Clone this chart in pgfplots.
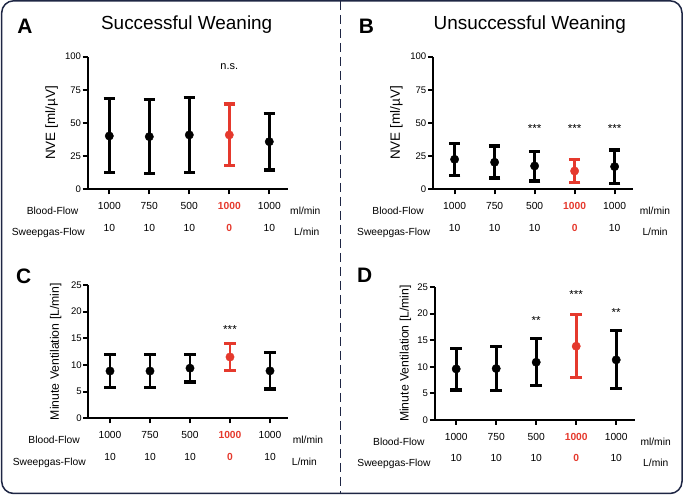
\documentclass[border=0pt]{standalone}
\usepackage{pgfplots}
\pgfplotsset{compat=1.18}
\usepackage{fontspec}
\setmainfont{Liberation Sans}
\definecolor{myred}{RGB}{229,57,45}
\definecolor{navy}{RGB}{30,38,68}
\newcommand\fs[1]{\fontsize{#1}{#1}\selectfont}
\pgfplotsset{
  panel/.style={
    scale only axis, width=200bp,
    anchor=south west,
    axis x line*=bottom, axis y line*=left,
    xmin=-0.54, xmax=4.46, ymin=0,
    xtick={0,1,2,3,4},
    xticklabels={{1000\\10},{750\\10},{500\\10},{\textcolor{myred}{\textbf{1000}}\\\textcolor{myred}{\textbf{0}}},{1000\\10}},
    axis line style={line width=2bp, black},
    major tick style={line width=2bp, black},
    tick align=outside, major tick length=5bp,
    /pgf/number format/assume math mode=true,
    yticklabel style={font=\fs{9.6}, inner sep=1.5bp},
    xticklabel style={font=\fontsize{10.3}{21.6}\selectfont, align=center, inner sep=0pt, yshift=-8bp},
    clip=false,
    every axis y label/.style={rotate=90, anchor=center},
  },
  blk/.style={only marks, mark=*, mark size=4.2bp, black, mark options={fill=black, draw=black},
    error bars/y dir=both, error bars/y explicit,
    error bars/error bar style={line width=2.6bp, black},
    error bars/error mark options={rotate=90, mark size=5.8bp, line width=3.2bp, black}},
  rd/.style={only marks, mark=*, mark size=4.2bp, myred, mark options={fill=myred, draw=myred},
    error bars/y dir=both, error bars/y explicit,
    error bars/error bar style={line width=2.6bp, myred},
    error bars/error mark options={rotate=90, mark size=5.8bp, line width=3.2bp, myred}},
}
\tikzset{rowlab/.style={font=\fs{10.3}}}
\begin{document}
\begin{tikzpicture}
\begin{scope}[x=1bp,y=1bp]
\useasboundingbox (0,0) rectangle (685,497);
\draw[navy, line width=1.5bp, rounded corners=12bp] (1.7,3.5) rectangle (682,496.2);
\draw[navy, line width=1.5bp, dash pattern=on 9bp off 5bp] (340.7,496.2) -- (340.7,3.5);

% titles and letters
\node[font=\fs{19}] at (186.7,472) {Successful Weaning};
\node[font=\fs{19}] at (529.7,472) {Unsuccessful Weaning};
\node[font=\bfseries\fs{21}, anchor=base] at (25,463.7) {A};
\node[font=\bfseries\fs{21}, anchor=base] at (366.3,463.7) {B};
\node[font=\bfseries\fs{21}, anchor=base] at (23.8,213.7) {C};
\node[font=\bfseries\fs{21}, anchor=base] at (364.7,214.3) {D};

% row labels
\node[rowlab, anchor=base east] at (81.7,282.6) {Blood-Flow};
\node[rowlab, anchor=base east] at (88.3,261) {Sweepgas-Flow};
\node[rowlab, anchor=base west] at (286.7,282.6) {ml/min};
\node[rowlab, anchor=base west] at (290.7,261) {L/min};
\node[rowlab, anchor=base east] at (427.3,282.6) {Blood-Flow};
\node[rowlab, anchor=base east] at (433.7,261) {Sweepgas-Flow};
\node[rowlab, anchor=base west] at (636.3,282.6) {ml/min};
\node[rowlab, anchor=base west] at (639,261) {L/min};
\node[rowlab, anchor=base east] at (83.3,53.3) {Blood-Flow};
\node[rowlab, anchor=base east] at (89.3,31.6) {Sweepgas-Flow};
\node[rowlab, anchor=base west] at (289.3,53.3) {ml/min};
\node[rowlab, anchor=base west] at (288.3,31.6) {L/min};
\node[rowlab, anchor=base east] at (428,51.6) {Blood-Flow};
\node[rowlab, anchor=base east] at (434,30.6) {Sweepgas-Flow};
\node[rowlab, anchor=base west] at (637,51.6) {ml/min};
\node[rowlab, anchor=base west] at (639.7,30.6) {L/min};
\end{scope}

% Panel A
\begin{axis}[panel, at={(87.7bp,307.7bp)}, height=132.6bp, ymax=100, ytick={0,25,50,75,100},
  ylabel={NVE [ml/µV]}, ylabel style={font=\fs{13.5}, at={(axis description cs:-0.18,0.5)}}]
\addplot[blk] coordinates {(0,40.2) += (0,28.4) -= (0,27.7) (1,39.7) += (0,28.2) -= (0,27.7) (2,41.0) += (0,28.4) -= (0,28.2) (4,35.9) += (0,21.1) -= (0,21.3)};
\addplot[rd] coordinates {(3,41.0) += (0,23.3) -= (0,23.2)};
\node[anchor=base, font=\fs{11}] at (axis cs:3,90) {n.s.};
\end{axis}

% Panel B
\begin{axis}[panel, at={(433bp,307.7bp)}, height=132.6bp, ymax=100, ytick={0,25,50,75,100},
  ylabel={NVE [ml/µV]}, ylabel style={font=\fs{13.5}, at={(axis description cs:-0.183,0.5)}}]
\addplot[blk] coordinates {(0,22.6) += (0,12.1) -= (0,12.3) (1,20.4) += (0,12.3) -= (0,11.9) (2,17.6) += (0,10.8) -= (0,11.3) (4,17.1) += (0,12.5) -= (0,12.6)};
\addplot[rd] coordinates {(3,13.8) += (0,8.8) -= (0,8.8)};
\node[anchor=base, font=\fs{11.7}] at (axis cs:2,42.6) {***};
\node[anchor=base, font=\fs{11.7}] at (axis cs:3,42.6) {***};
\node[anchor=base, font=\fs{11.7}] at (axis cs:4,42.6) {***};
\end{axis}

% Panel C
\begin{axis}[panel, at={(88.4bp,78.7bp)}, height=133.3bp, ymax=25, ytick={0,5,10,15,20,25},
  ylabel={Minute Ventilation [L/min]}, ylabel style={font=\fs{12.3}, at={(axis description cs:-0.163,0.5)}}]
\addplot[blk] coordinates {(0,8.87) += (0,3.13) -= (0,3.12) (1,8.87) += (0,3.03) -= (0,3.07) (2,9.4) += (0,2.6) -= (0,2.6) (4,8.9) += (0,3.5) -= (0,3.4)};
\addplot[rd] coordinates {(3,11.5) += (0,2.5) -= (0,2.5)};
\node[anchor=base, font=\fs{11.7}] at (axis cs:3,15.9) {***};
\end{axis}

% Panel D
\begin{axis}[panel, at={(434.6bp,77bp)}, height=133bp, ymax=25, ytick={0,5,10,15,20,25},
  ylabel={Minute Ventilation [L/min]}, ylabel style={font=\fs{12.3}, at={(axis description cs:-0.146,0.5)}}]
\addplot[blk] coordinates {(0,9.6) += (0,3.8) -= (0,3.95) (1,9.67) += (0,4.08) -= (0,4.07) (2,10.86) += (0,4.44) -= (0,4.39) (4,11.3) += (0,5.5) -= (0,5.4)};
\addplot[rd] coordinates {(3,13.87) += (0,6.03) -= (0,5.84)};
\node[anchor=base, font=\fs{11.7}] at (axis cs:2,17.9) {**};
\node[anchor=base, font=\fs{11.7}] at (axis cs:3,22.9) {***};
\node[anchor=base, font=\fs{11.7}] at (axis cs:4,19.4) {**};
\end{axis}
\end{tikzpicture}
\end{document}
